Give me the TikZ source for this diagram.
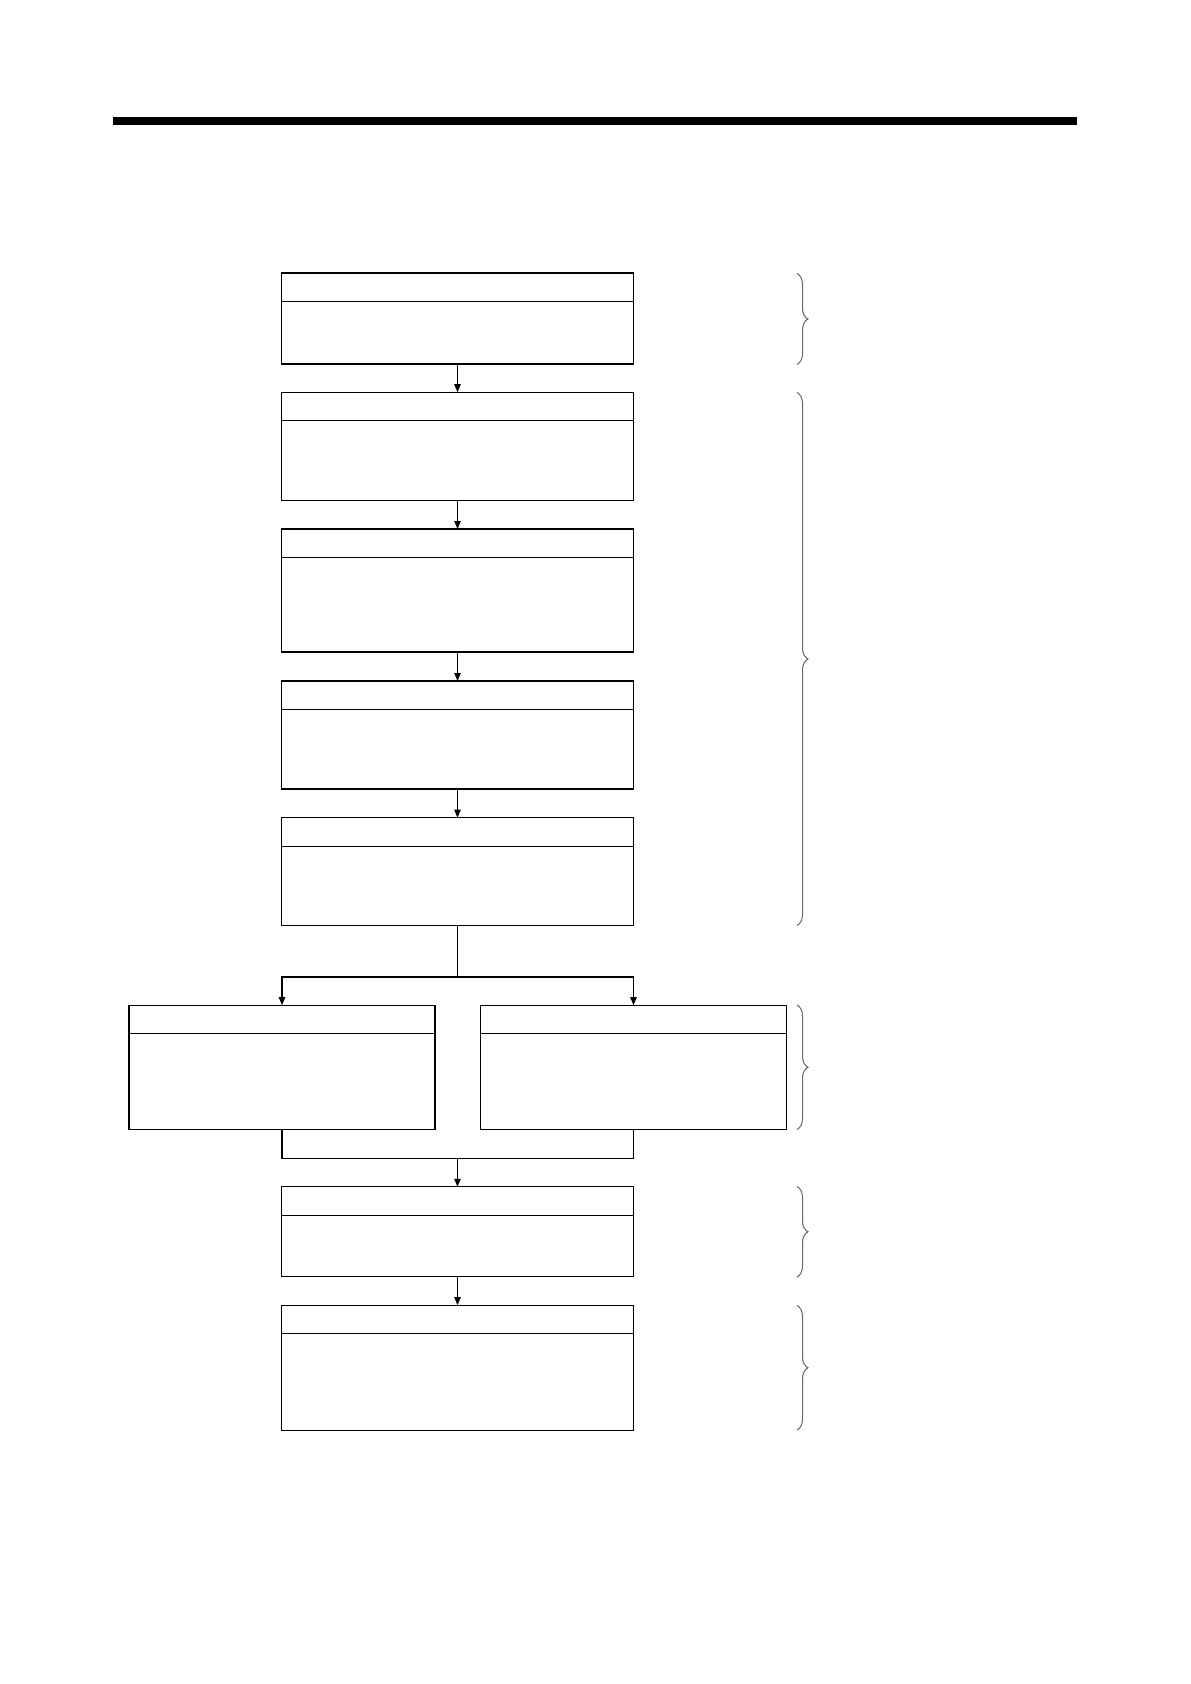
\documentclass[tikz,border=0pt]{standalone}
\usetikzlibrary{arrows.meta,decorations.pathreplacing}
\begin{document}
\begin{tikzpicture}[x=0.5pt,y=-0.5pt,
  stepbox/.style={shape=rectangle, draw, line width=0.6pt, inner sep=0pt, outer sep=0pt,
    minimum width=176pt},
  sidebox/.style={stepbox, minimum width=153pt},
  arr/.style={line width=0.6pt, -{Triangle[length=4pt,width=3.2pt]}},
  grp/.style={draw=black!60, line width=0.5pt, decorate,
    decoration={brace, amplitude=5.5pt}}]
\useasboundingbox (0,0) rectangle (1190,1684);

% top rule
\fill (112.7,116.7) rectangle (1077.3,125);

% main column
\node[stepbox, minimum height=45.5pt] (b1) at (457.5,318.5) {};
\node[stepbox, minimum height=54pt] (b2) at (457.5,446.2) {};
\node[stepbox, minimum height=61.5pt] (b3) at (457.5,590.5) {};
\node[stepbox, minimum height=54pt] (b4) at (457.5,735) {};
\node[stepbox, minimum height=54pt] (b5) at (457.5,871.7) {};

% two side by side
\node[sidebox, minimum height=62pt] (sl) at (282,1067.2) {};
\node[sidebox, minimum height=62pt] (sr) at (633.5,1067.2) {};

\node[stepbox, minimum height=45pt] (b6) at (457.5,1231.8) {};
\node[stepbox, minimum height=62.5pt] (b7) at (457.5,1367.6) {};

% title strips
\foreach \n in {b1,b2,b3,b4,b5,sl,sr,b6,b7}
  \draw[line width=0.6pt] ([yshift=-14.3pt]\n.north west) -- ([yshift=-14.3pt]\n.north east);

\draw[arr] (b1) -- (b2);
\draw[arr] (b2) -- (b3);
\draw[arr] (b3) -- (b4);
\draw[arr] (b4) -- (b5);

\coordinate (split) at (457.5,977);
\draw[line width=0.6pt] (b5.south) -- (split);
\draw[arr] (split) -| (sl.north);
\draw[arr] (split) -| (sr.north);

\coordinate (join) at (457.5,1158.3);
\draw[line width=0.6pt] (sl.south) |- (join);
\draw[line width=0.6pt] (sr.south) |- (join);
\draw[arr] (join) -- (b6);
\draw[arr] (b6) -- (b7);

% braces
\draw[grp] (797,273.5) -- (797,364.5);
\draw[grp] (797,392.5) -- (797,925.5);
\draw[grp] (797,1005) -- (797,1129.5);
\draw[grp] (797,1186.5) -- (797,1277);
\draw[grp] (797,1305.5) -- (797,1430);
\end{tikzpicture}
\end{document}
